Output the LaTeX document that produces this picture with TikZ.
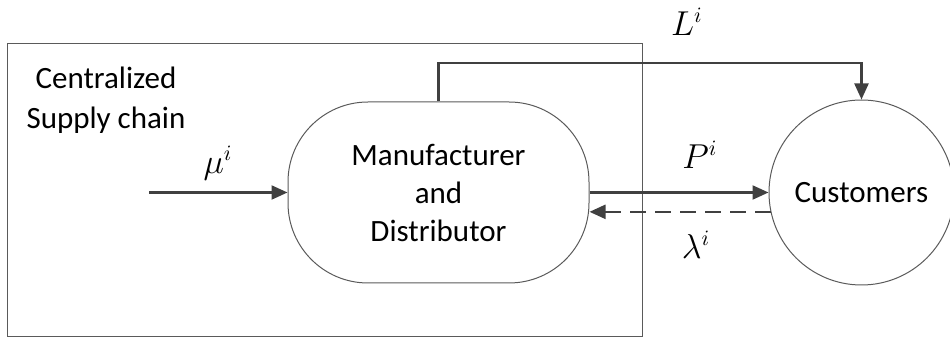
\documentclass[tikz,border=0pt]{standalone}
\usepackage{fontspec}
\setmainfont{Carlito}
\usetikzlibrary{arrows.meta,calc}
\definecolor{arrcol}{HTML}{404040}
\definecolor{linecol}{HTML}{5A5A5A}
\begin{document}
\begin{tikzpicture}[x=0.5pt,y=-0.5pt,
  every node/.style={font=\fontsize{15.5}{19}\selectfont},
  shapeline/.style={draw=linecol,line width=0.5pt},
  arr/.style={draw=arrcol,line width=1.1pt,-{Triangle[length=8pt,width=7pt]}},
  dasharr/.style={arr,dash pattern=on 8pt off 4.5pt},
  lbl/.style={inner sep=0pt,font=\fontsize{16}{19}\selectfont}]
\useasboundingbox (0,0) rectangle (950,341);
\node[shapeline,minimum width=635*0.5pt,minimum height=293*0.5pt,inner sep=0pt,anchor=north west] (box) at (7,43) {};
\node[align=center,inner sep=0pt] (title) at (106,100) {Centralized\\[1pt]Supply chain};
\node[shapeline,rounded corners=40pt,minimum width=301*0.5pt,minimum height=181*0.5pt,align=center,inner sep=0pt] (md) at (438.5,192.5) {Manufacturer\\and\\Distributor};
\node[shapeline,circle,minimum size=185*0.5pt,inner sep=0pt] (cu) at (861.5,192.5) {Customers};
\coordinate (src) at (149,192.5);
\coordinate (lc) at (861.5,63);
\draw[arr] (src) -- (md.west);
\draw[arr] (md.north) |- (lc) -- (cu.north);
\draw[arr] (md.east) -- (cu.west);
\draw[dasharr] (cu.192) -- (md.east |- cu.192);
\node[lbl] (mu) at (218,163) {$\mu^i$};
\node[lbl] (L) at (687,22) {$L^i$};
\node[lbl] (P) at (700,155) {$P^i$};
\node[lbl] (lam) at (696,245) {$\lambda^i$};
\end{tikzpicture}
\end{document}
